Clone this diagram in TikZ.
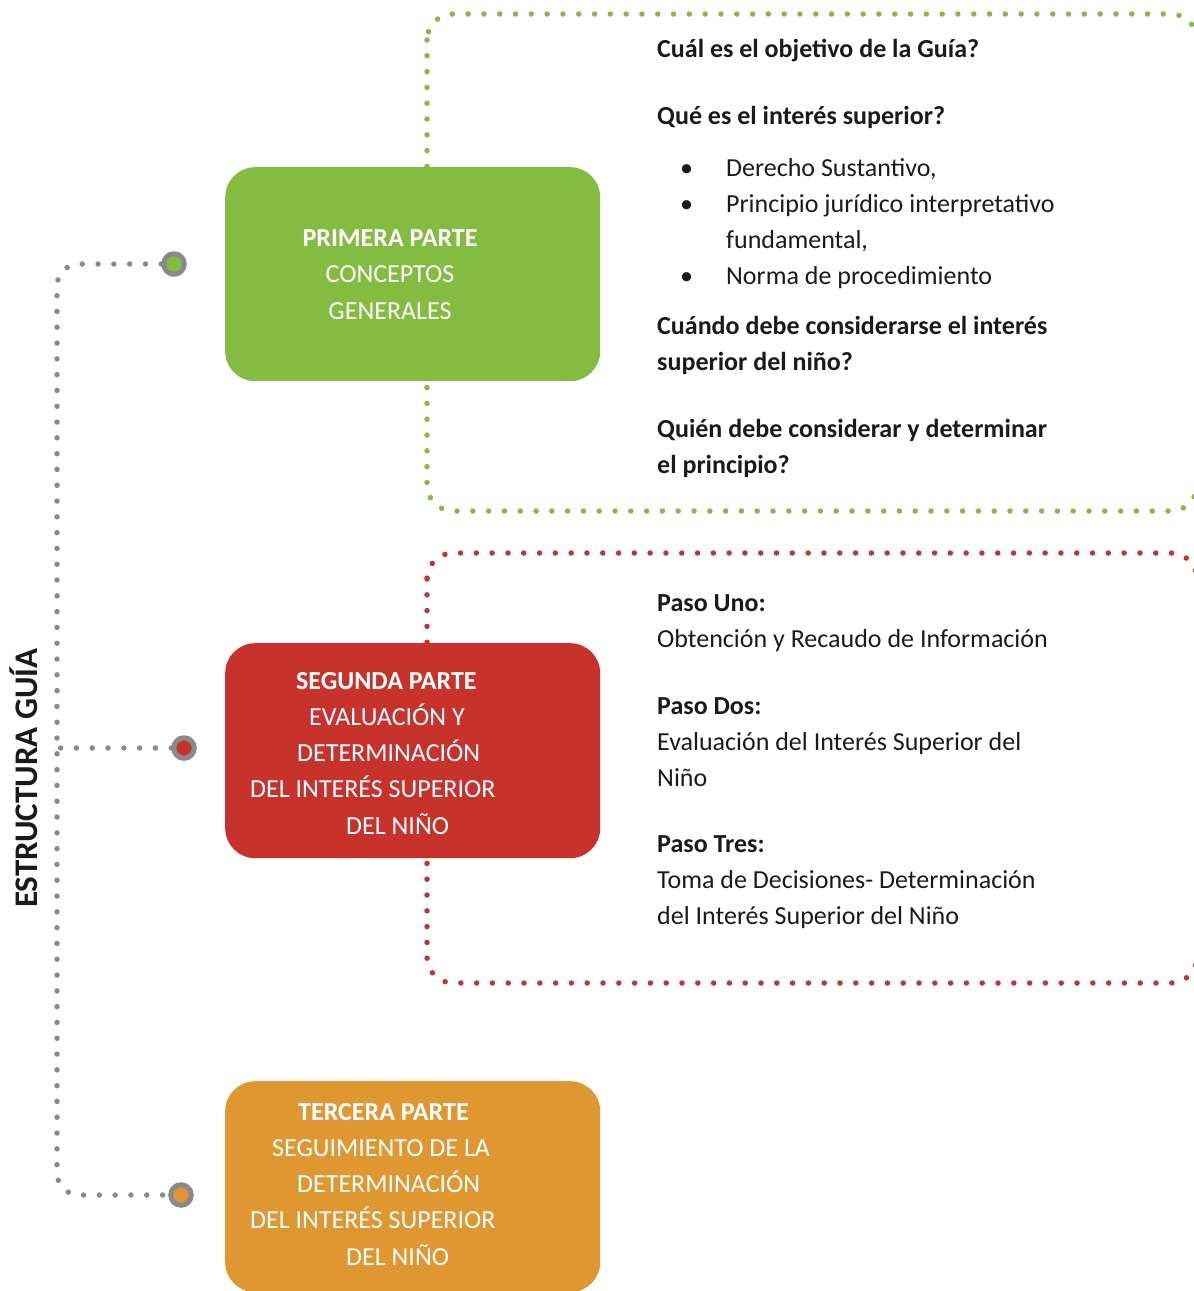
\documentclass[tikz,border=0pt]{standalone}
\usepackage{fontspec}
\setmainfont{Carlito}
\usetikzlibrary{positioning}

\definecolor{verde}{RGB}{132,188,65}
\definecolor{rojo}{RGB}{199,50,45}
\definecolor{naranja}{RGB}{222,151,49}
\definecolor{gris}{RGB}{138,138,138}
\definecolor{tinta}{RGB}{26,26,26}

\tikzset{
    puntos/.style={line width=5.5pt, line cap=round, dash pattern=on 0pt off 15.8pt},
    parte/.style={rounded corners=30pt, minimum width=375pt, anchor=north west, inner sep=0pt},
    hito/.style={circle, draw=gris, line width=5pt, minimum size=20.5pt, inner sep=0pt},
    rotulo/.style={text=white, inner sep=0pt, font=\fontsize{26}{36.2}\selectfont},
    texto/.style={text=tinta, align=left, anchor=base west, inner sep=0pt, font=\fontsize{26}{36}\selectfont},
    pregunta/.style={texto, font=\fontsize{26}{35.5}\selectfont\bfseries},
}

\begin{document}
\begin{tikzpicture}[x=1pt,y=-1pt]
    \useasboundingbox (0,0) rectangle (1194,1291);
    \clip (0,0) rectangle (1194,1291);

    % marcos punteados
    \draw[puntos, verde, rounded corners=26pt] (427,14) rectangle (1197,511);
    \draw[puntos, rojo, rounded corners=26pt] (427,553) rectangle (1197,983);

    % cajas
    \node[parte, fill=verde, minimum height=214pt] (primera) at (225,167) {};
    \node[parte, fill=rojo, minimum height=215pt] (segunda) at (225,643) {};
    \node[parte, fill=naranja, minimum height=211pt] (tercera) at (225,1081) {};

    % (base = ultima linea)
    \node[rotulo, align=center, anchor=base] (t1) at (390,319)
        {\textbf{PRIMERA PARTE}\\CONCEPTOS\\GENERALES};
    \node[rotulo, align=left, anchor=base west] (t2) at (250,834)
        {\hspace*{46pt}\textbf{SEGUNDA PARTE}\\\hspace*{59pt}EVALUACIÓN Y\\\hspace*{47pt}DETERMINACIÓN\\DEL INTERÉS SUPERIOR\\\hspace*{96pt}DEL NIÑO};
    \node[rotulo, align=left, anchor=base west] (t3) at (250,1265)
        {\hspace*{48pt}\textbf{TERCERA PARTE}\\\hspace*{22pt}SEGUIMIENTO DE LA\\\hspace*{47pt}DETERMINACIÓN\\DEL INTERÉS SUPERIOR\\\hspace*{96pt}DEL NIÑO};

    % eje
    \node[hito, fill=verde] (h1) at (174,264) {};
    \node[hito, fill=rojo] (h2) at (184,748) {};
    \node[hito, fill=naranja] (h3) at (181,1195) {};
    \coordinate (eje) at (57,0);

    \draw[puntos, gris, rounded corners=22pt] (h1.west) -- (h1.west -| eje) -- (h3.west -| eje) -- (h3.west);
    \draw[puntos, gris] (h2.west) -- (h2.west -| eje);

    \node[rotate=90, text=tinta, inner sep=0pt, font=\fontsize{33}{35}\selectfont\bfseries] (estructura) at (24,778) {ESTRUCTURA GUÍA};

    % primera parte
    \node[pregunta] (p1) at (657,57) {Cuál es el objetivo de la Guía?};
    \node[pregunta] (p2) at (657,124) {Qué es el interés superior?};
    \node[texto] (lista) at (680,284)
        {\makebox[46pt][l]{•}Derecho Sustantivo,\\\makebox[46pt][l]{•}Principio jurídico interpretativo\\\hspace*{46pt}fundamental,\\\makebox[46pt][l]{•}Norma de procedimiento};
    \node[pregunta] (p3) at (657,370) {Cuándo debe considerarse el interés\\superior del niño?};
    \node[pregunta] (p4) at (657,473) {Quién debe considerar y determinar\\el principio?};

    % segunda parte
    \node[texto] (paso1) at (657,647) {\textbf{Paso Uno:}\\Obtención y Recaudo de Información};
    \node[texto] (paso2) at (657,786) {\textbf{Paso Dos:}\\Evaluación del Interés Superior del\\Niño};
    \node[texto] (paso3) at (657,924) {\textbf{Paso Tres:}\\Toma de Decisiones- Determinación\\del Interés Superior del Niño};
\end{tikzpicture}
\end{document}
